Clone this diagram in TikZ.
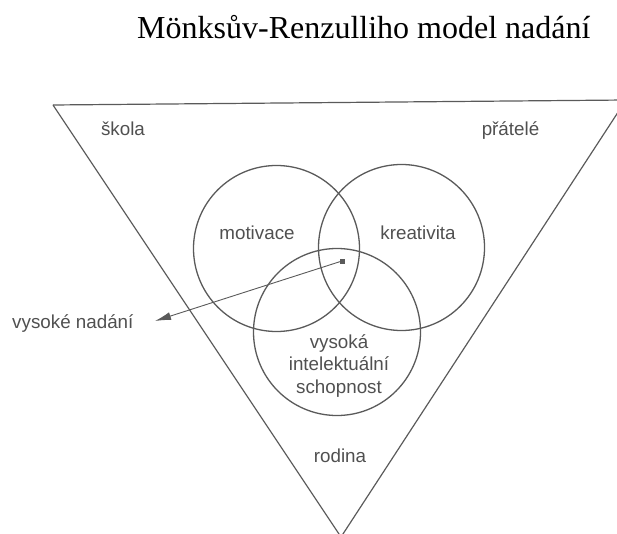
\documentclass[tikz,border=0pt]{standalone}
\usepackage{fontspec}
\setmainfont{Liberation Serif}
\newfontfamily\labfont{Liberation Sans}
\usetikzlibrary{arrows.meta}
\definecolor{ink}{HTML}{5A5A5A}
\definecolor{txt}{HTML}{505050}
\begin{document}
\begin{tikzpicture}[x=1pt,y=-1pt,
  lab/.style={font=\labfont\fontsize{18.8}{22.5}\selectfont, text=txt, inner sep=0pt, anchor=base, align=center},
  circ/.style={draw=ink, line width=1.3pt},
  edge/.style={draw=ink, line width=1.2pt}]
\useasboundingbox (0,0) rectangle (617,534);
\clip (0,0) rectangle (617,534);
% title
\node[font=\fontsize{32}{38}\selectfont, inner sep=0pt, anchor=base west] (title) at (137,39) {Mönksův-Renzulliho model nadání};
% triangle
\coordinate (tl) at (53,105);
\coordinate (tr) at (626,100);
\coordinate (ap) at (341,537);
\draw[edge] (tl) -- (tr);
\draw[edge] (tl) -- (ap) -- (tr);
% circles
\node[circ, circle, minimum size=166pt, inner sep=0pt] (cm) at (276.5,248.5) {};
\node[circ, circle, minimum size=166pt, inner sep=0pt] (ck) at (401.5,247.5) {};
\node[circ, circle, minimum size=167pt, inner sep=0pt] (cs) at (337,332) {};
% labels
\node[lab] (skola) at (123,136) {škola};
\node[lab] (pratele) at (510.5,136) {přátelé};
\node[lab] (motiv) at (257,240) {motivace};
\node[lab] (kreat) at (418,240) {kreativita};
\node[lab] (schop) at (339,393) {vysoká\\intelektuální\\schopnost};
\node[lab] (rodina) at (340,462) {rodina};
\node[lab, anchor=base west] (vn) at (12,328) {vysoké nadání};
% arrow
\node[fill=ink, minimum size=5pt, inner sep=0pt] (sq) at (342,261) {};
\coordinate (tip) at (155,321);
\draw[ink, line width=0.9pt, -{Latex[length=16pt,width=8pt]}] (sq.center) -- (tip);
\end{tikzpicture}
\end{document}
